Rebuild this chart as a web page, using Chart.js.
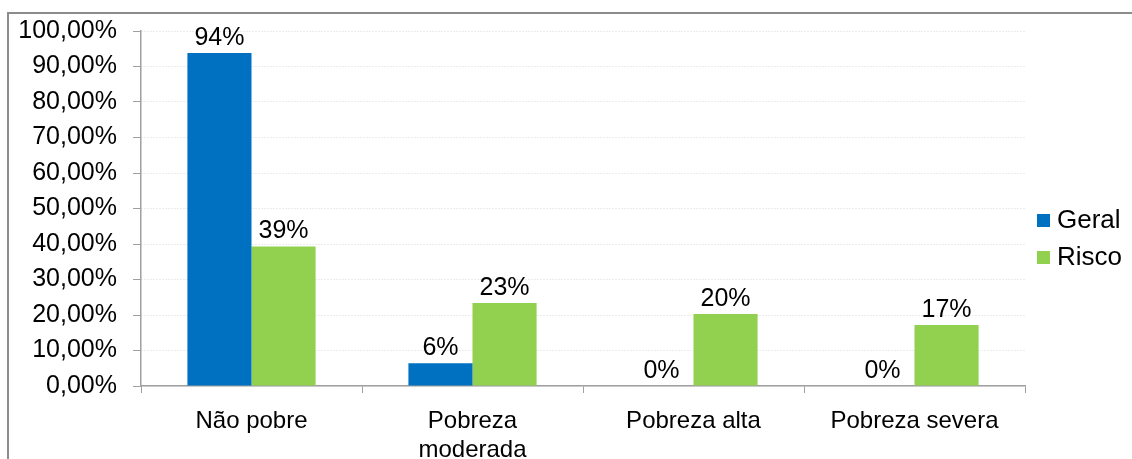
<!DOCTYPE html>
<html>
<head>
<meta charset="utf-8">
<script src="https://cdn.jsdelivr.net/npm/chart.js@4/dist/chart.umd.min.js"></script>
<style>
  html, body { margin: 0; padding: 0; background: #fff; overflow: hidden; }
  #frame { position: absolute; left: 7px; top: 12px; width: 1200px; height: 500px; border: 2px solid #8c8c8c; }
  #wrap { position: absolute; left: 0; top: 0; width: 1132px; height: 459px; }
</style>
</head>
<body>
<div id="frame"></div>
<div id="wrap"><canvas id="myChart"></canvas></div>
<script>
// Données du graphique
const categories = ['Não pobre', ['Pobreza', 'moderada'], 'Pobreza alta', 'Pobreza severa'];
const seriesNames = ['Geral', 'Risco'];
const geral = [0.938, 0.064, 0, 0];
const risco = [0.393, 0.234, 0.203, 0.172];
const yTicks = [0, 0.1, 0.2, 0.3, 0.4, 0.5, 0.6, 0.7, 0.8, 0.9, 1];

const couleurs = ['#0070C0', '#92D050'];
const police = '"Liberation Sans", Arial, sans-serif';

// Étiquettes au-dessus des barres + légende à droite
const etiquettes = {
    id: 'etiquettes',
    afterDatasetsDraw(chart) {
        const ctx = chart.ctx;
        ctx.save();
        ctx.font = '25px ' + police;
        ctx.fillStyle = '#000';
        ctx.textAlign = 'center';
        ctx.textBaseline = 'alphabetic';
        chart.data.datasets.forEach((ds, i) => {
            chart.getDatasetMeta(i).data.forEach((bar, j) => {
                ctx.fillText(Math.round(ds.data[j] * 100) + '%', bar.x, bar.y - 8);
            });
        });
        // légende
        ctx.font = '26px ' + police;
        ctx.textAlign = 'left';
        ctx.textBaseline = 'middle';
        const ly = [220, 257];
        seriesNames.forEach((nom, i) => {
            ctx.fillStyle = couleurs[i];
            ctx.fillRect(1037, ly[i] - 6, 13, 13);
            ctx.fillStyle = '#000';
            ctx.fillText(nom, 1057, ly[i] + 1);
        });
        ctx.restore();
    }
};

let myChart;
document.addEventListener('DOMContentLoaded', function() {
    const ctx = document.getElementById('myChart').getContext('2d');
    myChart = new Chart(ctx, {
        type: 'bar',
        data: {
            labels: categories,
            datasets: [
                { label: seriesNames[0], data: geral, backgroundColor: couleurs[0] },
                { label: seriesNames[1], data: risco, backgroundColor: couleurs[1] }
            ]
        },
        options: {
            responsive: true,
            maintainAspectRatio: false,
            animation: false,
            categoryPercentage: 0.58,
            barPercentage: 1,
            layout: { padding: { top: 28, left: 0, right: 107, bottom: 0 } },
            plugins: {
                legend: { display: false },
                tooltip: { enabled: false }
            },
            scales: {
                y: {
                    min: 0,
                    max: 1,
                    afterFit(scale) { scale.width = 141; },
                    afterBuildTicks(scale) { scale.ticks = yTicks.map(v => ({ value: v })); },
                    ticks: {
                        padding: 16,
                        color: '#000',
                        font: { family: police, size: 25 },
                        callback: v => (v * 100).toFixed(2).replace('.', ',') + '%'
                    },
                    grid: { color: '#d9d9d9', tickColor: '#a0a0a0', tickLength: 8, tickBorderDash: [] },
                    border: { color: '#a0a0a0', width: 1.5, dash: [1, 2] }
                },
                x: {
                    afterFit(scale) { scale.height = 73; },
                    ticks: {
                        padding: 14,
                        color: '#000',
                        font: { family: police, size: 24, lineHeight: 1.2 }
                    },
                    grid: { offset: true, drawOnChartArea: false, tickColor: '#a0a0a0', tickLength: 7 },
                    border: { color: '#a0a0a0', width: 1.5 }
                }
            }
        },
        plugins: [etiquettes]
    });
});
</script>
</body>
</html>
